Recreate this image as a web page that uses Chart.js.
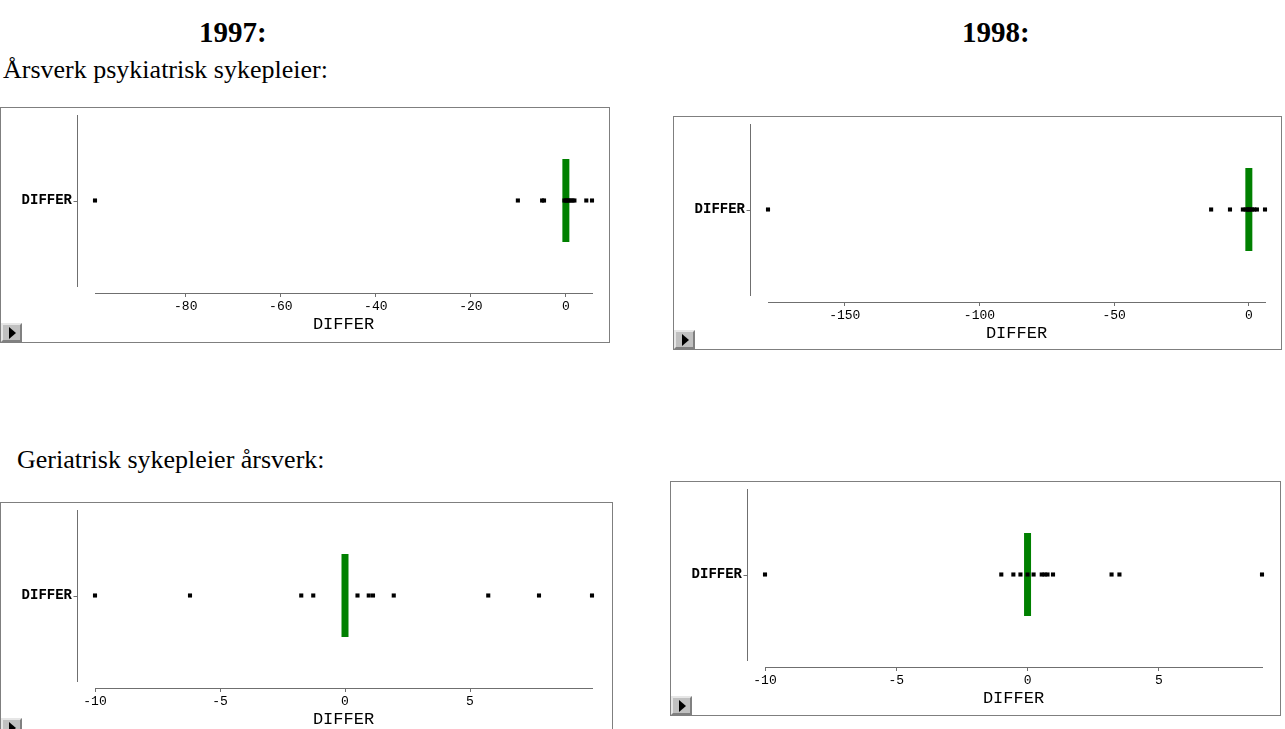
<!DOCTYPE html>
<html lang="no">
<head>
<meta charset="utf-8">
<title>DIFFER 1997 / 1998</title>
<script src="https://cdn.jsdelivr.net/npm/chart.js@4.4.0/dist/chart.umd.min.js"></script>
<style>
  body { margin: 0; background: #fff; width: 1285px; height: 729px; overflow: hidden; position: relative; }
  .txt { position: absolute; font-family: "Liberation Serif", "Times New Roman", serif; color: #000; white-space: nowrap; }
  .year { font-size: 29px; font-weight: bold; line-height: 28px; }
  .head { font-size: 26px; line-height: 26px; }
  .frame { position: absolute; border: 1px solid #7f7f7f; background: #fff; box-sizing: border-box; overflow: hidden; }
  .frame canvas { position: absolute; left: 0; top: 0; }
  .knapp { position: absolute; left: 0; bottom: 0; width: 21px; height: 19px; box-sizing: border-box;
           background: #c0c0c0; border-top: 2px solid #e6e6e6; border-left: 2px solid #e6e6e6;
           border-right: 2px solid #808080; border-bottom: 2px solid #808080; }
  .knapp::after { content: ""; position: absolute; left: 6px; top: 2px; border-left: 7px solid #000;
                  border-top: 6px solid transparent; border-bottom: 6px solid transparent; }
</style>
</head>
<body>

<div class="txt year" style="left:199px; top:18px;">1997:</div>
<div class="txt year" style="left:962px; top:18px;">1998:</div>
<div class="txt head" style="left:3px; top:57px;">Årsverk psykiatrisk sykepleier:</div>
<div class="txt head" style="left:17px; top:447px;">Geriatrisk sykepleier årsverk:</div>

<div class="frame" style="left:0px; top:107px; width:610px; height:236px;"><canvas id="psyk97" width="608" height="233"></canvas><div class="knapp"></div></div>
<div class="frame" style="left:673px; top:116px; width:609px; height:234px;"><canvas id="psyk98" width="608" height="233"></canvas><div class="knapp"></div></div>
<div class="frame" style="left:0px; top:502px; width:613px; height:236px;"><canvas id="geri97" width="608" height="233"></canvas><div class="knapp"></div></div>
<div class="frame" style="left:670px; top:481px; width:611px; height:235px;"><canvas id="geri98" width="608" height="233"></canvas><div class="knapp"></div></div>

<script>
// ============================================
// Dotplot av DIFFER, psykiatrisk og geriatrisk sykepleier
// ============================================

// Verdier lest av figuren
const psyk1997 = [-99.1, -10.1, -5.0, -4.6, -0.3, 0, 0.3, 0.6, 1.0, 1.4, 1.8, 4.3, 5.5];
const psyk1998 = [-178.5, -14.0, -7.0, -2.2, -1.2, -0.5, 0, 0.5, 1.2, 2.0, 3.0, 6.0];
const geri1997 = [-10.0, -6.2, -1.75, -1.27, 0.5, 0.95, 1.12, 1.95, 5.73, 7.76, 9.88];
const geri1998 = [-10.0, -1.0, -0.54, -0.27, 0, 0.23, 0.54, 0.65, 0.76, 0.97, 3.2, 3.5, 8.93];

// Median (grønn strek) per panel
const medianer = [0, 0, 0, 0];

// Aksemerker
const ticksPsyk1997 = [-80, -60, -40, -20, 0];
const ticksPsyk1998 = [-150, -100, -50, 0];
const ticksGeri = [-10, -5, 0, 5];

const kategori = ['DIFFER'];

const MONO = '"Liberation Mono", "Courier New", monospace';
const AKSE = '#6f6f6f';

// Y-aksen står litt løs fra x-aksen, tegnes her
const yAkseLinje = {
    id: 'yAkseLinje',
    afterDraw(chart) {
        const { ctx, chartArea, scales } = chart;
        const x = Math.round(chartArea.left - 18) + 0.5;
        const y = Math.round(scales.y.getPixelForValue(0)) + 0.5;
        ctx.save();
        ctx.strokeStyle = AKSE;
        ctx.lineWidth = 1;
        ctx.beginPath();
        ctx.moveTo(x, chartArea.top + 7);
        ctx.lineTo(x, chartArea.bottom - 6);
        ctx.moveTo(x - 4, y);
        ctx.lineTo(x, y);
        ctx.stroke();
        ctx.restore();
    }
};

function lagDotplot(id, verdier, median, ticks) {
    const ctx = document.getElementById(id);
    return new Chart(ctx, {
        type: 'scatter',
        data: {
            datasets: [
                {
                    label: 'DIFFER',
                    data: verdier.map(v => ({ x: v, y: 'DIFFER' })),
                    pointStyle: 'rect',
                    pointRadius: 2.9,
                    pointBackgroundColor: '#000',
                    pointBorderWidth: 0,
                    clip: false,
                    order: 1
                },
                {
                    label: 'Median',
                    data: [{ x: median, y: 'DIFFER' }],
                    pointStyle: 'line',
                    pointRotation: 90,
                    pointRadius: 41.5,
                    pointBorderWidth: 7,
                    pointBorderColor: '#008000',
                    pointBackgroundColor: '#008000',
                    clip: false,
                    order: 2
                }
            ]
        },
        options: {
            responsive: false,
            animation: false,
            events: [],
            layout: { autoPadding: false, padding: { top: 0, right: 17, bottom: 0, left: 0 } },
            plugins: {
                legend: { display: false },
                tooltip: { enabled: false }
            },
            scales: {
                x: {
                    type: 'linear',
                    min: Math.min(...verdier),
                    max: Math.max(...verdier),
                    afterBuildTicks: s => { s.ticks = ticks.map(v => ({ value: v })); },
                    afterFit: s => { s.height = 48; s.paddingLeft = 0; s.paddingRight = 0; },
                    border: { display: true, color: AKSE, width: 1 },
                    grid: { drawOnChartArea: false, drawTicks: true, tickLength: 4, color: AKSE },
                    ticks: {
                        autoSkip: false,
                        maxRotation: 0,
                        padding: 2,
                        color: '#000',
                        font: { family: MONO, size: 13 }
                    },
                    title: {
                        display: true,
                        text: 'DIFFER',
                        color: '#000',
                        font: { family: MONO, size: 17 },
                        padding: { top: 0, bottom: 6 }
                    }
                },
                y: {
                    type: 'category',
                    labels: kategori,
                    offset: true,
                    afterFit: s => { s.width = 94; s.paddingTop = 0; s.paddingBottom = 0; },
                    border: { display: false },
                    grid: { display: false, drawTicks: false },
                    ticks: {
                        padding: 23,
                        color: '#000',
                        font: { family: MONO, size: 14, weight: 'bold' }
                    }
                }
            }
        },
        plugins: [yAkseLinje]
    });
}

lagDotplot('psyk97', psyk1997, medianer[0], ticksPsyk1997);
lagDotplot('psyk98', psyk1998, medianer[1], ticksPsyk1998);
lagDotplot('geri97', geri1997, medianer[2], ticksGeri);
lagDotplot('geri98', geri1998, medianer[3], ticksGeri);
</script>
</body>
</html>
